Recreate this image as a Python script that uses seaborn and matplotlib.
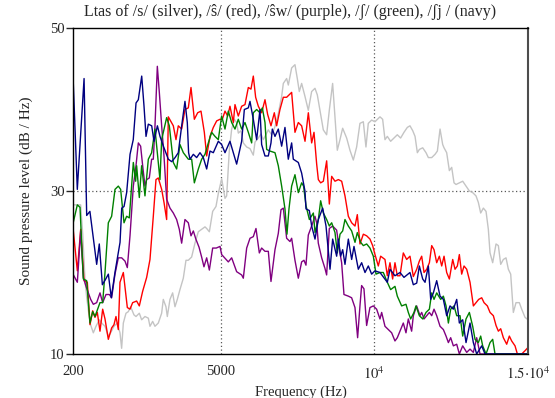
import matplotlib
matplotlib.use("Agg")
import matplotlib.pyplot as plt
import numpy as np
import pandas as pd
import seaborn as sns

# ---------------- data ----------------
silver_f = [200, 449, 514, 590, 644, 753, 861, 948, 1056, 1132, 1240, 1349, 1425, 1533, 1641, 1728, 1782, 1837,
            1923, 2000, 2075, 2183, 2249, 2357, 2433, 2541, 2650, 2704, 2791, 2866, 2975, 3083, 3137, 3224, 3268,
            3354, 3441, 3517, 3593, 3679, 3788, 3875, 3951, 4059, 4167, 4276, 4384, 4493, 4548, 4635, 4743, 4851,
            4927, 5036, 5144, 5198, 5285, 5361, 5447, 5523, 5578, 5664, 5740, 5849, 5957, 6065, 6120, 6228, 6315,
            6391, 6553, 6662, 6770, 6878, 6987, 7041, 7149, 7204, 7312, 7420, 7496, 7561, 7637, 7746, 7854, 7962,
            8071, 8147, 8234, 8342, 8450, 8537, 8645, 8721, 8797, 8884, 8971, 9101, 9209, 9318, 9426, 9534, 9643,
            9729, 9805, 9914, 10022, 10130, 10185, 10272, 10348, 10424, 10532, 10641, 10749, 10857, 10966, 11074,
            11161, 11250, 11326, 11401, 11467, 11575, 11683, 11759, 11868, 11976, 12052, 12139, 12225, 12269, 12355,
            12442, 12518, 12594, 12659, 12767, 12876, 12984, 13093, 13201, 13309, 13385, 13461, 13548, 13635, 13710,
            13765, 13851, 13960, 14036, 14112, 14198, 14285, 14361, 14437, 14523, 14610, 14718, 14795, 14903, 15000]
silver_db = [28.3, 28.3, 24.8, 19.1, 17.0, 13.8, 12.6, 13.4, 14.2, 13.8, 13.4, 12.2, 12.6, 13.4, 13.8, 12.6, 10.7, 13.8,
             15.0, 15.2, 15.8, 14.8, 14.6, 15.0, 14.2, 14.6, 14.4, 13.4, 14.0, 13.4, 13.8, 15.0, 16.7, 15.8, 14.6,
             16.7, 17.5, 15.8, 16.7, 17.9, 19.3, 21.5, 21.5, 21.9, 23.6, 25.0, 25.3, 25.6, 25.4, 25.0, 27.5, 28.1,
             29.7, 31.5, 29.1, 29.4, 35.0, 37.6, 38.8, 38.4, 37.1, 37.4, 35.9, 35.4, 35.2, 34.4, 36.0, 36.5, 37.0,
             36.3, 37.5, 36.9, 37.9, 39.5, 41.6, 43.2, 43.8, 43.0, 45.1, 45.5, 43.8, 42.2, 43.2, 41.6, 39.9, 42.2,
             42.6, 41.8, 39.9, 37.5, 36.9, 39.9, 43.2, 39.1, 35.0, 36.3, 37.7, 36.5, 35.0, 33.8, 35.4, 38.3, 38.5,
             35.4, 38.3, 38.7, 38.5, 38.9, 39.1, 38.8, 36.3, 36.7, 36.1, 36.5, 36.9, 36.5, 37.2, 37.8,
             38.0, 37.4, 36.7, 34.7, 35.1, 35.3, 34.7, 34.1, 34.1, 34.5, 34.9, 37.6, 35.7, 35.3, 34.7,
             32.5, 32.9, 31.0, 30.8, 31.0, 31.2, 30.6, 30.0, 29.8, 29.4, 28.6, 27.3, 27.9, 27.5, 25.3,
             22.4, 21.2, 23.5, 23.3, 21.0, 21.6, 21.8, 20.4, 19.8, 15.1, 16.3, 16.3, 15.5, 14.5, 14.2]

red_f = [200, 341, 450, 558, 666, 753, 840, 915, 991, 1078, 1165, 1241, 1349, 1457, 1533, 1598, 1674, 1728, 1837,
         1967, 2054, 2140, 2270, 2357, 2466, 2596, 2704, 2812, 2899, 2975, 3084, 3160, 3246, 3300, 3463, 3550, 3625,
         3734, 3842, 3951, 4038, 4147, 4255, 4363, 4472, 4548, 4656, 4764, 4873, 4981, 5057, 5144, 5231, 5306, 5415,
         5469, 5577, 5686, 5794, 5903, 5989, 6065, 6141, 6228, 6336, 6445, 6531, 6640, 6748, 6824, 6932, 7041, 7149,
         7312, 7420, 7529, 7637, 7747, 7855, 7963, 8039, 8126, 8180, 8256, 8343, 8451, 8538, 8614, 8722, 8831, 8939,
         9047, 9156, 9264, 9373, 9448, 9535, 9644, 9752, 9860, 9947, 10023, 10131, 10207, 10348, 10424, 10511, 10597,
         10673, 10749, 10836, 10944, 11053, 11161, 11270, 11380, 11466, 11542, 11618, 11705, 11792, 11868, 11943,
         12030, 12117, 12193, 12269, 12355, 12442, 12551, 12626, 12702, 12767, 12843, 12919, 13006, 13114, 13223,
         13309, 13396, 13494, 13570, 13678, 13765, 13873, 13960, 14036, 14112, 14198, 14307, 14393, 14469, 14578,
         14654, 14795, 14903, 15000]
red_db = [25.5, 20.2, 25.3, 19.0, 18.8, 13.6, 15.3, 14.5, 15.1, 12.8, 15.5, 14.3, 11.8, 13.2, 13.6, 14.6, 13.0, 18.8, 20.0,
          15.7, 15.5, 16.3, 16.5, 15.9, 17.7, 19.4, 21.6, 26.9, 31.4, 31.6, 30.2, 28.6, 26.5, 39.1, 38.0, 36.3, 38.0,
          37.6, 40.0, 40.2, 42.7, 38.8, 39.6, 39.8, 37.2, 34.3, 36.7, 37.8, 38.6, 38.8, 38.8, 39.8, 39.2, 40.4, 38.4,
          40.6, 39.2, 40.4, 40.6, 42.7, 42.5, 44.1, 41.5, 40.4, 39.6, 41.2, 39.4, 38.0, 39.6, 38.0, 40.0, 41.5, 41.5,
          42.1, 37.2, 38.4, 38.0, 36.1, 39.6, 35.9, 37.2, 33.3, 31.4, 31.0, 31.2, 33.7, 28.4, 31.8, 31.2, 31.4, 31.2,
          29.4, 26.9, 26.1, 25.7, 27.1, 23.5, 24.7, 24.5, 24.1, 23.3, 22.2, 20.8, 22.0, 21.6, 19.6, 21.2, 19.2,
          21.2, 19.6, 19.6, 22.4, 21.6, 22.0, 19.5, 20.4, 21.4, 22.0, 20.0, 20.4, 21.2, 23.3, 22.8,
          21.2, 22.0, 20.8, 22.0, 20.0, 19.2, 21.6, 20.4, 20.8, 22.2, 19.8, 20.8, 20.4, 18.8, 15.9,
          16.3, 16.7, 16.9, 16.3, 15.9, 15.1, 14.7, 13.5, 12.8, 13.1, 12.0, 11.2, 12.2, 11.6, 11.0,
          10.0, 10.0, 10.4, 10.8]

purple_f = [200, 341, 450, 536, 623, 699, 775, 861, 970, 1078, 1165, 1273, 1382, 1457, 1566, 1674, 1783, 1891, 1967,
            2054, 2162, 2249, 2325, 2400, 2466, 2541, 2596, 2682, 2758, 2812, 2867, 2943, 3008, 3084, 3160, 3246, 3355,
            3463, 3571, 3658, 3734, 3842, 3951, 4038, 4114, 4196, 4300, 4384, 4460, 4548, 4635, 4743, 4860, 4981, 5036,
            5252, 5361, 5523, 5686, 5740, 5849, 5957, 6065, 6152, 6261, 6336, 6445, 6553, 6640, 6770, 6878, 6965, 7041,
            7149, 7258, 7312, 7420, 7529, 7637, 7713, 7778, 7854, 7962, 8071, 8125, 8179, 8288, 8396, 8450, 8537, 8645,
            8775, 8884, 8938, 9014, 9155, 9263, 9372, 9458, 9534, 9588, 9664, 9751, 9859, 9968, 10076, 10185, 10240,
            10348, 10457, 10565, 10673, 10749, 10836, 10944, 11031, 11107, 11215, 11270, 11378, 11486, 11542, 11618,
            11705, 11792, 11868, 11943, 12030, 12139, 12247, 12334, 12410, 12485, 12572, 12681, 12767, 12876, 13006,
            13114, 13222, 13331, 13439, 15000]
purple_db = [19.8, 18.8, 25.1, 19.4, 18.3, 17.5, 16.7, 16.1, 16.3, 17.5, 16.3, 17.3, 17.3, 16.9, 19.8, 21.8, 21.8, 21.4, 20.6,
             24.5, 30.6, 33.1, 35.9, 35.5, 33.1, 30.6, 31.4, 31.6, 33.9, 33.9, 38.0, 45.3, 42.1, 38.0, 34.3, 29.0, 27.9,
             27.3, 26.5, 25.3, 23.6, 26.5, 26.1, 24.5, 25.1, 24.1, 23.1, 21.9, 20.7, 21.8, 20.3, 23.0, 23.0, 23.2, 22.2,
             21.3, 21.8, 20.1, 19.7, 19.3, 23.0, 24.2, 24.4, 25.4, 22.4, 23.0, 22.6, 22.6, 18.9, 22.8, 24.8, 27.7, 27.9,
             24.2, 23.8, 24.2, 21.5, 19.3, 21.3, 21.5, 20.9, 24.6, 25.7, 26.9, 26.1, 23.6, 21.8, 20.5, 19.7, 25.4, 25.7,
             25.2, 22.4, 21.2, 17.3, 17.1, 16.9, 15.7, 12.0, 15.9, 18.4, 18.0, 13.5, 15.7, 15.9, 15.5, 14.3, 15.1,
             13.4, 13.0, 12.6, 11.6, 12.0, 12.8, 13.8, 12.6, 14.3, 12.8, 14.7, 15.9, 14.7, 15.1, 14.3,
             14.7, 15.1, 14.7, 15.5, 14.7, 13.4, 13.0, 12.2, 11.4, 12.0, 11.0, 11.2, 10.0, 11.0, 10.2,
             10.6, 10.2, 12.0, 10.0, 10.0]

green_f = [200, 341, 428, 536, 644, 753, 840, 915, 1078, 1165, 1241, 1349, 1457, 1566, 1674, 1750, 1859, 1945, 2032,
           2162, 2238, 2270, 2357, 2433, 2541, 2650, 2758, 2867, 3029, 3084, 3246, 3333, 3463, 3571, 3680, 3789, 3951,
           4060, 4147, 4277, 4385, 4493, 4602, 4710, 4819, 4927, 5035, 5144, 5252, 5361, 5469, 5577, 5686, 5794, 5903,
           6011, 6065, 6174, 6282, 6358, 6445, 6499, 6607, 6770, 6878, 6987, 7095, 7160, 7225, 7312, 7420, 7529, 7637,
           7700, 7779, 7888, 8018, 8072, 8180, 8256, 8343, 8451, 8538, 8614, 8722, 8798, 8885, 8972, 9047, 9156, 9264,
           9373, 9448, 9557, 9644, 9752, 9860, 9969, 10056, 10186, 10294, 10424, 10532, 10673, 10749, 10890, 11031,
           11107, 11183, 11291, 11356, 11467, 11575, 11683, 11792, 11868, 11943, 12030, 12160, 12247, 12334, 12410,
           12485, 12594, 12681, 12789, 12876, 12984, 13093, 13201, 13277, 13385, 13461, 13526, 13635, 13765, 13851,
           13927, 15000]
green_db = [26.0, 28.3, 28.0, 19.2, 19.0, 13.8, 15.2, 14.6, 16.3, 16.3, 20.0, 26.1, 26.9, 30.2, 30.6, 30.2, 26.1, 26.9, 26.7,
            33.5, 31.2, 33.1, 29.2, 33.1, 29.4, 33.9, 34.7, 37.6, 31.4, 36.3, 39.0, 38.0, 33.5, 32.7, 35.7, 34.7, 33.9,
            33.9, 31.0, 32.7, 33.9, 34.5, 35.9, 37.2, 36.7, 36.3, 39.2, 37.6, 39.8, 38.4, 37.6, 38.8, 37.6, 38.4, 37.2,
            35.9, 39.6, 40.0, 39.6, 40.2, 38.4, 35.1, 34.9, 34.7, 33.1, 30.6, 27.8, 24.7, 27.8, 30.6, 32.0, 29.8, 31.0,
            30.6, 28.2, 26.5, 27.3, 24.9, 26.5, 28.8, 27.3, 26.5, 25.7, 26.1, 24.9, 22.4, 24.7, 25.1, 26.5, 25.7, 25.1,
            23.7, 24.9, 23.7, 23.3, 23.5, 23.0, 22.0, 19.8, 20.0, 20.0, 18.8, 17.9, 18.3, 17.1, 15.9, 16.1,
            15.1, 14.3, 15.1, 15.9, 14.7, 14.3, 15.1, 15.5, 17.5, 16.7, 17.5, 16.7, 17.1, 15.9, 13.8,
            15.5, 15.9, 14.7, 14.7, 12.2, 14.3, 15.1, 13.4, 11.8, 11.4, 12.2, 11.0, 10.0, 11.4, 11.8,
            10.0, 10.0]

navy_f = [200, 340, 560, 645, 750, 810, 860, 970, 1055, 1155, 1250, 1350, 1445, 1565, 1730, 1785, 1860, 1945, 2055, 2160,
          2250, 2325, 2435, 2510, 2575, 2650, 2760, 2835, 2945, 3030, 3140, 3300, 3410, 3520, 3625, 3735, 3842, 3918,
          3960, 4006, 4114, 4222, 4331, 4439, 4548, 4656, 4764, 4927, 5035, 5144, 5306, 5415, 5523, 5686, 5773, 5903,
          5957, 6065, 6174, 6282, 6336, 6445, 6553, 6640, 6683, 6770, 6878, 6987, 7095, 7203, 7312, 7366, 7529, 7637,
          7745, 7779, 7888, 7963, 8072, 8180, 8321, 8430, 8560, 8646, 8776, 8831, 8906, 8972, 9047, 9156, 9264, 9340,
          9481, 9589, 9698, 9806, 9914, 10023, 10186, 10424, 10511, 10673, 10836, 10966, 11161, 11270, 11380, 11466,
          11575, 11651, 11759, 11835, 11922, 12030, 12139, 12247, 12355, 12464, 12572, 12681, 12767, 12876, 12984,
          13114, 13222, 13331, 13494, 13602, 15000]
navy_db = [44.2, 30.2, 43.8, 27.0, 27.5, 25.7, 24.1, 21.0, 23.5, 18.5, 19.1, 19.8, 16.9, 20.0, 23.7, 27.9, 28.1, 29.8, 34.5, 36.3,
           40.8, 41.2, 44.1, 40.4, 36.7, 38.2, 38.0, 36.1, 38.0, 36.7, 35.5, 33.9, 33.6, 34.1, 34.7, 38.0, 41.0, 38.4,
           34.7, 33.9, 34.5, 34.1, 34.7, 34.1, 32.7, 34.9, 34.7, 36.1, 35.7, 34.7, 36.1, 34.7, 33.3, 36.1, 40.0, 40.2,
           41.0, 38.8, 36.3, 40.0, 35.7, 34.3, 34.3, 35.9, 37.6, 36.7, 37.6, 35.5, 37.8, 33.9, 35.9, 33.9, 33.5, 32.2,
           30.0, 27.8, 27.6, 25.7, 24.1, 26.5, 27.9, 25.7, 20.4, 24.1, 22.0, 24.1, 22.0, 22.8, 21.0, 24.1, 21.6, 23.2,
           20.4, 21.2, 20.0, 20.8, 19.8, 20.2, 20.0, 18.8, 20.4, 19.6, 20.0, 19.4, 20.0, 18.5, 18.7, 20.8,
           19.2, 18.8, 20.8, 16.7, 17.5, 19.0, 17.1, 16.7, 14.7, 15.9, 15.5, 16.7, 13.8, 14.2, 11.4,
           13.8, 11.4, 10.0, 11.0, 10.0, 10.0]

sounds = ["s", "ŝ", "ŝw", "ʃ", "ʃj"]
colors = ["#c4c4c4", "#ff0000", "#800080", "#008000", "#000080"]
x_ticks = [200, 5000, 10000, 15000]
x_tick_labels = ["200", "5000", r"$10^4$", r"$1.5{\cdot}10^4$"]
y_ticks = [10, 30, 50]
y_tick_labels = ["10", "30", "50"]

frames = []
for name, f, d in [("s", silver_f, silver_db), ("ŝ", red_f, red_db), ("ŝw", purple_f, purple_db),
                   ("ʃ", green_f, green_db), ("ʃj", navy_f, navy_db)]:
    frames.append(pd.DataFrame({"freq": f, "db": d, "sound": name}))
df = pd.concat(frames, ignore_index=True)

# ---------------- style ----------------
sns.set_style("white")
plt.rcParams["font.family"] = ["Liberation Serif", "DejaVu Serif"]
plt.rcParams["mathtext.fontset"] = "stix"

fig = plt.figure(figsize=(5.55, 3.98), dpi=100)
ax = fig.add_axes([73 / 555, 1 - 354 / 398, 455 / 555, 326 / 398])

for xv in [5000, 10000]:
    ax.axvline(xv, color="0.35", lw=0.9, ls=(0, (1, 2)), zorder=1)
ax.axhline(30, color="0.35", lw=0.9, ls=(0, (1, 2)), zorder=1)

sns.lineplot(data=df, x="freq", y="db", hue="sound", hue_order=sounds,
             palette=dict(zip(sounds, colors)), estimator=None, sort=False,
             legend=False, lw=1.0, ax=ax, zorder=2)

ax.set_xlim(200, 15000)
ax.set_ylim(10, 50)
ax.set_xticks(x_ticks)
ax.set_xticklabels(x_tick_labels)
ax.set_yticks(y_ticks)
ax.set_yticklabels(y_tick_labels)
ax.tick_params(axis="x", length=0, pad=8, labelsize=10.5)
ax.tick_params(axis="y", length=5, width=1, pad=1, labelsize=10.5, direction="out", left=True)

for side in ["left", "bottom", "top"]:
    ax.spines[side].set_visible(True)
    ax.spines[side].set_color("black")
    ax.spines[side].set_linewidth(1.0)
ax.spines["right"].set_color("0.3")
ax.spines["right"].set_linewidth(1.5)
ax.spines["right"].set_linestyle((0, (1, 1)))

ax.set_xlabel("Frequency (Hz)", fontsize=10.5, labelpad=3)
ax.set_ylabel("Sound pressure level (dB / Hz)", fontsize=11, labelpad=12)

fig.text(290 / 555, 1 - 12 / 398, "Ltas of /s/ (silver), /ŝ/ (red), /ŝw/ (purple), /ʃ/ (green), /ʃj / (navy)",
         ha="center", va="center", fontsize=11.5)

fig.savefig("out.png", dpi=100)
